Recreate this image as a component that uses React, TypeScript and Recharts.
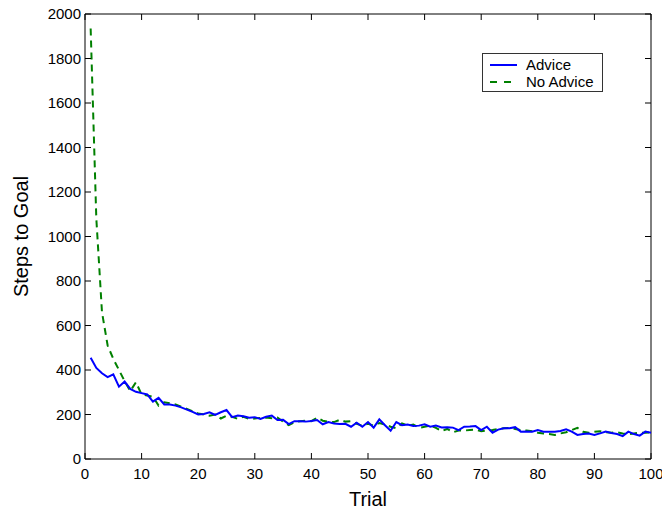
import { Line, LineChart, ReferenceLine, XAxis, YAxis } from 'recharts'

// valeurs (essais 1..100)
const trials = Array.from({ length: 100 }, (_, i) => i + 1)

const advice = [
  455, 409, 385, 368, 380, 325, 348, 315, 302, 296,
  290, 258, 275, 245, 245, 240, 232, 222, 212, 200,
  202, 210, 198, 210, 220, 188, 195, 192, 185, 188,
  180, 190, 195, 175, 176, 157, 170, 170, 168, 171,
  175, 156, 166, 160, 157, 158, 145, 163, 145, 166,
  141, 178, 152, 127, 166, 152, 155, 148, 150, 156,
  145, 150, 142, 143, 141, 130, 145, 146, 148, 130,
  145, 118, 132, 138, 138, 143, 123, 124, 123, 130,
  123, 122, 123, 126, 133, 123, 108, 112, 115, 108,
  115, 123, 117, 112, 103, 123, 112, 105, 123, 118,
]

const noAdvice = [
  1935, 1080, 660, 510, 450, 400, 350, 305, 345, 290,
  285, 280, 240, 255, 250, 245, 235, 225, 215, 205,
  200, 195, 200, 182, 195, 190, 180, 190, 180, 182,
  185, 186, 183, 186, 168, 152, 165, 170, 172, 170,
  186, 172, 168, 166, 176, 168, 170, 158, 150, 158,
  150, 162, 155, 145, 138, 160, 150, 155, 140, 145,
  150, 140, 125, 135, 120, 128, 128, 130, 132, 125,
  128, 130, 135, 138, 140, 135, 130, 128, 125, 118,
  115, 112, 108, 115, 120, 130, 140, 122, 118, 122,
  125, 120, 118, 120, 115, 112, 115, 118, 118, 120,
]

const xTicks = [0, 10, 20, 30, 40, 50, 60, 70, 80, 90, 100]
const yTicks = [0, 200, 400, 600, 800, 1000, 1200, 1400, 1600, 1800, 2000]

const data = trials.map((t, i) => ({ trial: t, advice: advice[i], noAdvice: noAdvice[i] }))

// bornes du cadre (px)
const LEFT = 85
const RIGHT = 651
const TOP = 14
const BOTTOM = 459
const FONT = 'Liberation Sans, Arial, sans-serif'

// ticks vers l'intérieur, répétés en haut
function XTick({ x, payload }: any) {
  return (
    <g>
      <line x1={x} x2={x} y1={BOTTOM} y2={BOTTOM - 6} stroke="#000" />
      <line x1={x} x2={x} y1={TOP} y2={TOP + 6} stroke="#000" />
      <text x={x} y={BOTTOM + 20} textAnchor="middle" fontSize={15} fontFamily={FONT} fill="#000">
        {payload.value}
      </text>
    </g>
  )
}

// idem à gauche / à droite
function YTick({ y, payload }: any) {
  return (
    <g>
      <line x1={LEFT} x2={LEFT + 6} y1={y} y2={y} stroke="#000" />
      <line x1={RIGHT} x2={RIGHT - 6} y1={y} y2={y} stroke="#000" />
      <text x={LEFT - 4} y={y + 5} textAnchor="end" fontSize={15} fontFamily={FONT} fill="#000">
        {payload.value}
      </text>
    </g>
  )
}

function LegendBox() {
  const row = { display: 'flex', alignItems: 'center', height: 17 }
  return (
    <div
      style={{
        position: 'absolute',
        left: 482,
        top: 53,
        border: '1px solid #333',
        background: '#fff',
        padding: '2px 0 2px 7px',
        fontFamily: FONT,
        fontSize: 15,
        color: '#000',
        boxSizing: 'border-box',
        width: 121,
        height: 39,
      }}
    >
      <div style={row}>
        <svg width={28} height={10} style={{ marginRight: 8 }}>
          <line x1={0} x2={27} y1={5} y2={5} stroke="#0000ff" strokeWidth={2} />
        </svg>
        Advice
      </div>
      <div style={row}>
        <svg width={28} height={10} style={{ marginRight: 8 }}>
          <line x1={0} x2={27} y1={5} y2={5} stroke="#008000" strokeWidth={2} strokeDasharray="7 7" />
        </svg>
        No Advice
      </div>
    </div>
  )
}

export default function App() {
  return (
    <div style={{ position: 'absolute', left: 0, top: 0, width: 662, height: 509, background: '#fff' }}>
      <LineChart width={662} height={509} data={data} margin={{ top: TOP, right: 662 - RIGHT, left: 0, bottom: 0 }}>
        <XAxis
          dataKey="trial"
          type="number"
          domain={[0, 100]}
          ticks={xTicks}
          height={50}
          axisLine={{ stroke: '#000' }}
          tickLine={false}
          tick={<XTick />}
          interval={0}
          label={{ value: 'Trial', position: 'insideBottom', offset: 3, fontSize: 20, fontFamily: FONT, fill: '#000' }}
        />
        <YAxis
          type="number"
          domain={[0, 2000]}
          ticks={yTicks}
          width={LEFT}
          axisLine={{ stroke: '#000' }}
          tickLine={false}
          tick={<YTick />}
          interval={0}
          label={{
            value: 'Steps to Goal',
            angle: -90,
            position: 'insideLeft',
            offset: 21,
            style: { textAnchor: 'middle' },
            fontSize: 20,
            fontFamily: FONT,
            fill: '#000',
          }}
        />
        {/* cadre haut / droite */}
        <ReferenceLine y={2000} stroke="#000" ifOverflow="visible" />
        <ReferenceLine x={100} stroke="#000" ifOverflow="visible" />
        <Line
          dataKey="noAdvice"
          name="No Advice"
          stroke="#008000"
          strokeWidth={2}
          strokeDasharray="7 5"
          dot={false}
          isAnimationActive={false}
        />
        <Line
          dataKey="advice"
          name="Advice"
          stroke="#0000ff"
          strokeWidth={2}
          dot={false}
          isAnimationActive={false}
        />
      </LineChart>
      <LegendBox />
    </div>
  )
}
